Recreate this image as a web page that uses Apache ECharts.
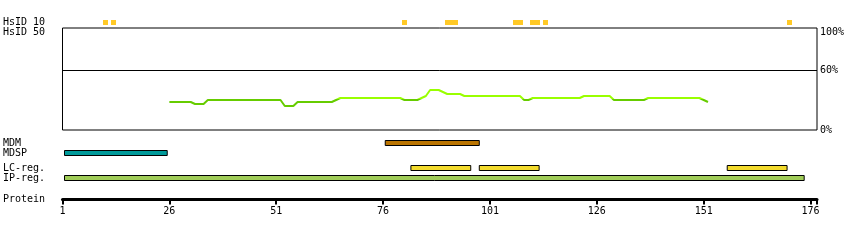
<!DOCTYPE html>
<html><head><meta charset="utf-8">
<script src="https://cdn.jsdelivr.net/npm/echarts@6/dist/echarts.min.js"></script>
<style>html,body{margin:0;padding:0;background:#fff}#c{width:850px;height:240px}</style>
</head><body><div id="c"></div>
<script>
// ---- data ----
const hsidRows = ['HsID 10', 'HsID 50'];
const hsid10Residues = [11, 13, 81, 91, 92, 93, 107, 108, 111, 112, 114, 171];
const identityResidues = [26, 31, 32, 34, 35, 52, 53, 55, 56, 64, 65, 66, 80, 81, 84, 85, 86, 87, 89, 90, 91, 94, 95, 108, 109, 110, 111, 122, 123, 129, 130, 137, 138, 150, 151, 152];
const identityPercent  = [28, 28, 26, 26, 30, 30, 24, 24, 28, 28, 30, 32, 32, 30, 30, 32, 34, 40, 40, 38, 36, 36, 34, 34, 30, 30, 32, 32, 34, 34, 30, 30, 32, 32, 30, 28];
const identityMarks = [0, 60, 100];
const identityGuide = [60];
const identityColorSplit = 31;
const trackRowsA = ['MDM', 'MDSP'];
const trackRowsB = ['LC-reg.', 'IP-reg.'];
const mdmRanges  = [[77, 98]];
const mdspRanges = [[1, 25]];
const lcRanges   = [[83, 96], [99, 112], [157, 170]];
const ipRanges   = [[1, 174]];
const proteinRow = ['Protein'];
const residueFirst = 1;
const residueStep = 25;
const residueAxisEnd = 177.5;
const percentMax = 102;

// ---- chart ----
const FONT = 'DejaVu Sans Mono';
const L = 62.5, W = 754.5;
const grids = [
  {left: L, width: W, top: 17.5, height: 20},
  {left: L, width: W, top: 28, height: 102, show: true, borderColor: '#000', borderWidth: 1, backgroundColor: 'transparent'},
  {left: L, width: W, top: 138, height: 20},
  {left: L, width: W, top: 163, height: 20},
  {left: L, width: W, top: 194.5, height: 10}
];
function hiddenX(i) {
  return {gridIndex: i, type: 'value', min: residueFirst, max: residueAxisEnd, show: false};
}
function rowAxis(i, rows) {
  return {gridIndex: i, type: 'category', data: rows, inverse: true,
    axisLine: {show: false}, axisTick: {show: false}, splitLine: {show: false},
    axisLabel: {interval: 0, align: 'left', margin: L - 3, fontFamily: FONT, fontSize: 10, color: '#000'}};
}
function rangeSeries(gridIdx, rowIdx, ranges, color) {
  return {
    type: 'custom', xAxisIndex: gridIdx, yAxisIndex: gridIdx, silent: true,
    data: ranges.map(r => [r[0], r[1], rowIdx]),
    renderItem: function (params, api) {
      const p0 = api.coord([api.value(0) - 0.5, api.value(2)]);
      const p1 = api.coord([api.value(1) + 0.5, api.value(2)]);
      const x0 = Math.max(p0[0], L + 2);
      return {type: 'rect', shape: {x: x0, y: p0[1] - 2.5, width: p1[0] - x0, height: 5},
        style: {fill: color, stroke: '#000', lineWidth: 1}};
    }
  };
}
const option = {
  animation: false,
  backgroundColor: '#fff',
  grid: grids,
  xAxis: [hiddenX(0), hiddenX(1), hiddenX(2), hiddenX(3), {
    gridIndex: 4, type: 'value', min: residueFirst, max: residueAxisEnd, interval: residueStep,
    position: 'bottom', offset: -5,
    axisLine: {show: true, onZero: false, lineStyle: {color: '#000', width: 3}},
    axisTick: {show: true, length: 5, lineStyle: {color: '#000', width: 2}},
    splitLine: {show: false},
    axisLabel: {margin: 7, fontFamily: FONT, fontSize: 10, color: '#000',
      formatter: v => ((v - residueFirst) % residueStep === 0 ? String(v) : '')}
  }],
  yAxis: [
    rowAxis(0, hsidRows),
    {gridIndex: 1, type: 'value', min: 0, max: percentMax, interval: 20, position: 'right',
      axisLine: {show: false}, axisTick: {show: false}, splitLine: {show: false},
      axisLabel: {margin: 3, fontFamily: FONT, fontSize: 10, color: '#000',
        formatter: v => identityMarks.indexOf(v) < 0 ? '' : (v === 100 ? '{t|' + v + '%}' : v + '%'),
        rich: {t: {padding: [5, 0, 0, 0], fontFamily: FONT, fontSize: 10, color: '#000'}}}},
    rowAxis(2, trackRowsA),
    rowAxis(3, trackRowsB),
    rowAxis(4, proteinRow)
  ],
  visualMap: {show: false, type: 'piecewise', seriesIndex: 1, dimension: 1,
    pieces: [{gte: 0, lt: identityColorSplit, color: '#66cc00'},
             {gte: identityColorSplit, lte: percentMax, color: '#99ff00'}]},
  series: [
    {
      type: 'custom', xAxisIndex: 0, yAxisIndex: 0, silent: true,
      data: hsid10Residues.map(r => [r, 0]),
      renderItem: function (params, api) {
        const p0 = api.coord([api.value(0) - 0.5, api.value(1)]);
        const p1 = api.coord([api.value(0) + 0.5, api.value(1)]);
        const x = Math.floor(p0[0]);
        return {type: 'rect', shape: {x: x, y: p0[1] - 2.5, width: Math.ceil(p1[0]) - x, height: 5},
          style: {fill: '#ffc926'}};
      }
    },
    {
      type: 'line', xAxisIndex: 1, yAxisIndex: 1, showSymbol: false, symbol: 'none', silent: true,
      lineStyle: {width: 2},
      data: identityResidues.map((r, i) => [r, identityPercent[i]])
    },
    {
      type: 'custom', xAxisIndex: 1, yAxisIndex: 1, silent: true,
      data: identityGuide.map(v => [residueFirst, v]),
      renderItem: function (params, api) {
        const p = api.coord([residueFirst, api.value(1)]);
        const y = Math.round(p[1]) + 0.5;
        return {type: 'line', shape: {x1: L, y1: y, x2: L + W, y2: y},
          style: {stroke: '#000', lineWidth: 1}};
      }
    },
    rangeSeries(2, 0, mdmRanges, '#ba7400'),
    rangeSeries(2, 1, mdspRanges, '#009a9a'),
    rangeSeries(3, 0, lcRanges, '#f2da2c'),
    rangeSeries(3, 1, ipRanges, '#a0cc58')
  ]
};
const chart = echarts.init(document.getElementById('c'), null, {renderer: 'canvas'});
chart.setOption(option);
</script>
</body></html>
